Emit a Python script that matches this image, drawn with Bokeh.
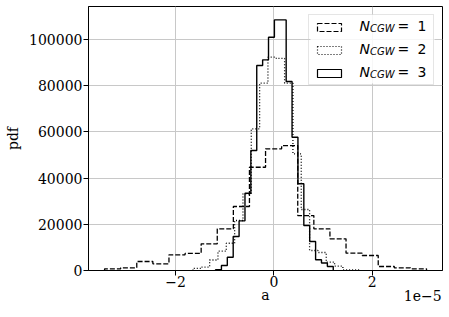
import numpy as np
from bokeh.plotting import figure
from bokeh.models import (Legend, LegendItem, Label, FixedTicker, LinearAxis, BoxAnnotation,
                          CustomJSTickFormatter, BasicTickFormatter, Range1d)
from bokeh.embed import file_html
from bokeh.resources import INLINE

# ---- data (x in units of 1e-5, 20 equal-width bins per series) ----
n1_lo, n1_hi = -3.443, 3.105
n2_lo, n2_hi = -1.645, 1.743
n3_lo, n3_hi = -1.186, 1.208

n1_pdf = [740, 1170, 3900, 2900, 6800, 7400, 11560, 18050, 27700, 44700,
          52700, 54100, 23800, 18050, 13700, 7500, 6500, 1730, 1170, 740]
n2_pdf = [950, 1500, 4550, 8350, 11800, 21650, 33200, 61340, 81100, 92340,
          91800, 81100, 50500, 26400, 8660, 7800, 3600, 1860, 300, 300]
n3_pdf = [300, 2160, 5760, 14700, 21500, 33460, 51950, 88740, 91200, 101000,
          108500, 108500, 81800, 57700, 37530, 19480, 12550, 4630, 3250, 1730]

series_names = ["1", "2", "3"]
x_ticks = [-2, 0, 2]
y_ticks = [0, 20000, 40000, 60000, 80000, 100000]
offset_text = "1e\u22125"

# ---- layout constants ----
X0, X1 = -3.77, 3.43
Y0, Y1 = 0, 114300
FW, FH = 354, 264
FL, FT = 88, 6          # frame left / top in page pixels
FB = FT + FH

SERIF = "DejaVu Serif"

p = figure(frame_width=FW, frame_height=FH, output_backend="svg",
           toolbar_location=None, x_range=Range1d(X0, X1), y_range=Range1d(Y0, Y1),
           min_border_left=FL, min_border_top=FT, min_border_right=6,
           min_border_bottom=40)
p.background_fill_color = "white"
p.border_fill_color = "white"
p.outline_line_color = "black"
p.outline_line_width = 1


def px_x(px):
    return X0 + (px - FL) / FW * (X1 - X0)


def px_y(py):
    return Y0 + (FB - py) / FH * (Y1 - Y0)


# legend geometry (page pixels)
LEG_MARGIN, LEG_PAD, LEG_SPACING, LEG_ROW = 8, 5, 10, 13
LEG_W = 2 * LEG_PAD + 30 + 11 + 73
LEG_H = 2 * LEG_PAD + 3 * LEG_ROW + 2 * LEG_SPACING
leg_right = FL + FW - LEG_MARGIN
leg_top = FT + LEG_MARGIN

# opaque white box behind the legend (hides the grid there)
p.add_layout(BoxAnnotation(left=px_x(leg_right - LEG_W), right=px_x(leg_right),
                           top=px_y(leg_top), bottom=px_y(leg_top + LEG_H),
                           fill_color="white", fill_alpha=0.85, line_color=None,
                           level="underlay"))


def step_path(lo, hi, dens):
    edges = np.linspace(lo, hi, len(dens) + 1)
    xs = np.repeat(edges, 2)
    ys = np.concatenate([[0], np.repeat(np.asarray(dens, dtype=float), 2), [0]])
    return xs, ys


styles = [("5 2", 1.3), ("1 2", 1.3), ("solid", 1.4)]
series = [(n1_lo, n1_hi, n1_pdf), (n2_lo, n2_hi, n2_pdf), (n3_lo, n3_hi, n3_pdf)]
quads = []
for (lo, hi, dens), (dash, lw) in zip(series, styles):
    xs, ys = step_path(lo, hi, dens)
    p.line(xs, ys, line_color="black", line_width=lw, line_dash=dash)
    # degenerate (zero-size) quad used only to draw the legend patch
    q = p.quad(left=[lo], right=[lo], top=[0], bottom=[0], fill_color="white",
               fill_alpha=0.0, line_color="black", line_width=1.2, line_dash=dash)
    quads.append(q)

# ---- axes ----
p.xaxis.ticker = FixedTicker(ticks=x_ticks)
p.yaxis.ticker = FixedTicker(ticks=y_ticks)
p.xgrid.ticker = FixedTicker(ticks=x_ticks)
p.ygrid.ticker = FixedTicker(ticks=y_ticks)
p.xaxis.formatter = CustomJSTickFormatter(
    code="return tick < 0 ? '\u2212' + Math.abs(tick) : String(tick);")
p.yaxis.formatter = BasicTickFormatter(use_scientific=False)

# second bottom axis: carries the offset text "1e-5" and the axis label "a"
offset_pos = X1 - 19.8 / FW * (X1 - X0)
ax2 = LinearAxis(ticker=FixedTicker(ticks=[offset_pos]),
                 formatter=CustomJSTickFormatter(code="return '%s';" % offset_text))
p.add_layout(ax2, "below")

for ax in (p.xaxis[0], p.yaxis[0], ax2):
    ax.major_label_text_font = SERIF
    ax.major_label_text_font_size = "14px"
    ax.major_label_text_color = "black"
    ax.axis_label_text_font = SERIF
    ax.axis_label_text_font_size = "14px"
    ax.axis_label_text_font_style = "normal"
    ax.axis_label_text_color = "black"
    ax.major_tick_out = 5
    ax.major_tick_in = 0
    ax.minor_tick_out = 0
    ax.minor_tick_in = 0
    ax.major_tick_line_color = "black"
    ax.axis_line_color = "black"

ax2.major_tick_out = 0
ax2.major_tick_line_color = None
ax2.axis_line_color = None
ax2.major_label_standoff = 0
ax2.axis_label = "a"
ax2.axis_label_standoff = -17

p.yaxis.axis_label = "pdf"
p.xaxis[0].major_label_standoff = 0
p.yaxis.major_label_standoff = 1
p.yaxis.axis_label_standoff = 5

p.grid.grid_line_color = "#c8c8c8"
p.grid.grid_line_width = 1

# ---- legend (patches + border; background provided by the box above) ----
legend = Legend(items=[LegendItem(label=" ", renderers=[q]) for q in quads],
                location="top_right", margin=LEG_MARGIN, padding=LEG_PAD,
                spacing=LEG_SPACING, glyph_width=30, glyph_height=10, label_standoff=11,
                label_width=73, label_height=LEG_ROW, label_text_font_size="8px",
                border_line_color="#cccccc", border_line_width=1,
                background_fill_alpha=0.0)
p.add_layout(legend)

row_top = leg_top + LEG_PAD + LEG_ROW / 2
for i, name in enumerate(series_names):
    cy = row_top + i * (LEG_ROW + LEG_SPACING)
    p.add_layout(Label(x=px_x(359), y=px_y(cy), text="N", text_font="DejaVu Sans",
                       text_font_style="italic", text_font_size="14px",
                       text_baseline="middle", text_color="black"))
    p.add_layout(Label(x=px_x(369.5), y=px_y(cy + 2.5), text="CGW", text_font="DejaVu Sans",
                       text_font_style="italic", text_font_size="10px",
                       text_baseline="middle", text_color="black"))
    p.add_layout(Label(x=px_x(397), y=px_y(cy), text="=", text_font="DejaVu Sans",
                       text_font_size="14px", text_baseline="middle", text_color="black"))
    p.add_layout(Label(x=px_x(417), y=px_y(cy), text=name, text_font="DejaVu Sans",
                       text_font_size="14px", text_baseline="middle", text_color="black"))

open("out.html", "w").write(file_html(p, INLINE))
